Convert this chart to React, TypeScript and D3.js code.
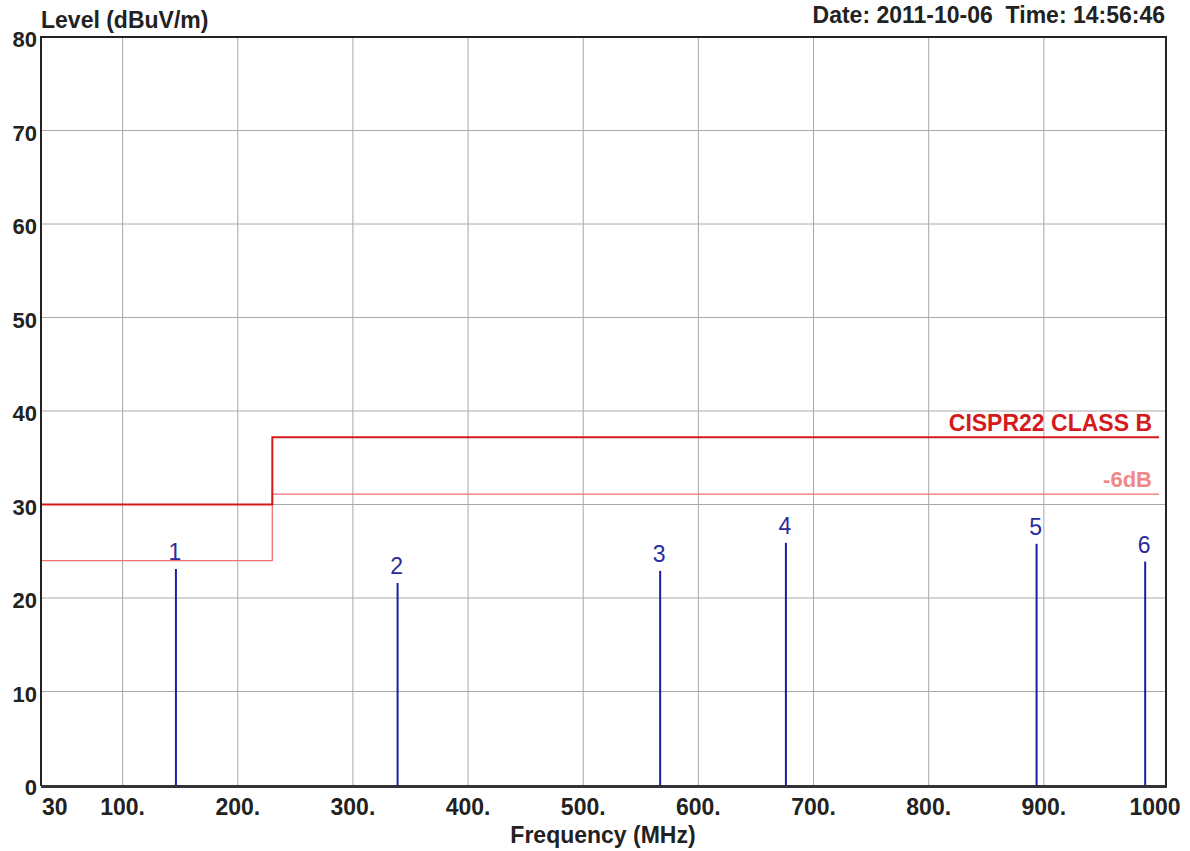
import React, { useEffect, useRef } from "react";
import * as d3 from "d3";

// Radiated emission scan, CISPR22 class B limit with -6dB margin line.

const freqTicks = [30, 100, 200, 300, 400, 500, 600, 700, 800, 900, 1000];
const freqTickLabels = ["30", "100.", "200.", "300.", "400.", "500.", "600.", "700.", "800.", "900.", "1000"];
const levelTicks = [0, 10, 20, 30, 40, 50, 60, 70, 80];

// limit line steps (MHz, dBuV/m)
const limitFreq = [30, 230, 230, 1000];
const limitLevel = [30, 30, 37.2, 37.2];
const marginLevel = [24, 24, 31.1, 31.1];

// measured peaks
const peakNo = ["1", "2", "3", "4", "5", "6"];
const peakFreq = [146.3, 338.8, 566.8, 676, 893.7, 988];
const peakLevel = [23.1, 21.6, 22.9, 25.9, 25.8, 23.9];

const W = 1190, H = 851;
const FONT = "'Liberation Sans', Arial, sans-serif";

export default function App() {
    const ref = useRef<SVGSVGElement>(null);

    useEffect(() => {
        const svg = d3.select(ref.current);
        svg.selectAll("*").remove();

        const left = 41, right = 1166, top = 37, bottom = 786;

        const x = d3.scaleLinear().domain([30, 1000]).range([42, 1159]);
        const y = d3.scaleLinear().domain([0, 80]).range([785, 37]);

        svg.append("rect").attr("width", W).attr("height", H).attr("fill", "#fff");

        // grid
        svg.append("g").selectAll("line")
            .data(freqTicks.slice(1, -1))
            .join("line")
            .attr("x1", d => x(d)).attr("x2", d => x(d))
            .attr("y1", top).attr("y2", bottom)
            .attr("stroke", "#a8a8a8").attr("stroke-width", 1);
        svg.append("g").selectAll("line")
            .data(levelTicks.slice(1, -1))
            .join("line")
            .attr("x1", left).attr("x2", right)
            .attr("y1", d => y(d)).attr("y2", d => y(d))
            .attr("stroke", "#a8a8a8").attr("stroke-width", 1);

        // limit lines
        const pts = (lv: number[]) => limitFreq.map((f, i) => [f, lv[i]] as [number, number]);
        const line = d3.line<[number, number]>().x(d => x(d[0])).y(d => y(d[1]));
        svg.append("path").attr("d", line(pts(marginLevel)))
            .attr("fill", "none").attr("stroke", "#f07070").attr("stroke-width", 1.3);
        svg.append("path").attr("d", line(pts(limitLevel)))
            .attr("fill", "none").attr("stroke", "#d41a1a").attr("stroke-width", 2);

        svg.append("text").attr("x", 1152).attr("y", y(37.2) - 6)
            .attr("text-anchor", "end").attr("font-family", FONT).attr("font-weight", "bold")
            .attr("font-size", 23).attr("fill", "#d41a1a").text("CISPR22 CLASS B");
        svg.append("text").attr("x", 1152).attr("y", y(31.1) - 7)
            .attr("text-anchor", "end").attr("font-family", FONT).attr("font-weight", "bold")
            .attr("font-size", 22).attr("fill", "#f08888").text("-6dB");

        // peaks
        svg.append("g").selectAll("line")
            .data(peakFreq)
            .join("line")
            .attr("x1", d => x(d)).attr("x2", d => x(d))
            .attr("y1", y(0)).attr("y2", (d, i) => y(peakLevel[i]))
            .attr("stroke", "#1c1ca8").attr("stroke-width", 2);
        svg.append("g").selectAll("text")
            .data(peakFreq)
            .join("text")
            .attr("x", d => x(d) - 1)
            .attr("y", (d, i) => y(peakLevel[i]) - 9)
            .attr("text-anchor", "middle").attr("font-family", FONT)
            .attr("font-size", 23).attr("fill", "#2a2aa0")
            .text((d, i) => peakNo[i]);

        // frame
        svg.append("path")
            .attr("d", `M${left},${bottom}V${top}H${right}V${bottom}`)
            .attr("fill", "none").attr("stroke", "#222").attr("stroke-width", 2);
        svg.append("line").attr("x1", left).attr("x2", right + 1)
            .attr("y1", bottom + 0.5).attr("y2", bottom + 0.5)
            .attr("stroke", "#333").attr("stroke-width", 3);

        // axis labels
        svg.append("g").selectAll("text")
            .data(levelTicks)
            .join("text")
            .attr("x", 37).attr("y", d => y(d) + 10)
            .attr("text-anchor", "end").attr("font-family", FONT).attr("font-weight", "bold")
            .attr("font-size", 22).attr("fill", "#222")
            .text(d => String(d));
        svg.append("g").selectAll("text")
            .data(freqTicks)
            .join("text")
            .attr("x", (d, i) => i === 0 ? x(d) : x(d) - (i === freqTicks.length - 1 ? 4 : 0))
            .attr("y", 815)
            .attr("text-anchor", (d, i) => i === 0 ? "start" : "middle")
            .attr("font-family", FONT).attr("font-weight", "bold")
            .attr("font-size", 23).attr("fill", "#222")
            .text((d, i) => freqTickLabels[i]);

        svg.append("text").attr("x", 603).attr("y", 843)
            .attr("text-anchor", "middle").attr("font-family", FONT).attr("font-weight", "bold")
            .attr("font-size", 23).attr("fill", "#222").text("Frequency (MHz)");
        svg.append("text").attr("x", 41).attr("y", 28)
            .attr("font-family", FONT).attr("font-weight", "bold")
            .attr("font-size", 23).attr("fill", "#222").text("Level (dBuV/m)");
        svg.append("text").attr("x", 1165).attr("y", 23)
            .attr("text-anchor", "end").attr("font-family", FONT).attr("font-weight", "bold")
            .attr("font-size", 23).attr("fill", "#222").text("Date: 2011-10-06  Time: 14:56:46")
            .attr("xml:space", "preserve").style("white-space", "pre");
    }, []);

    return (
        <div style={{ position: "absolute", left: 0, top: 0 }}>
            <svg ref={ref} width={W} height={H} style={{ display: "block" }} />
        </div>
    );
}
